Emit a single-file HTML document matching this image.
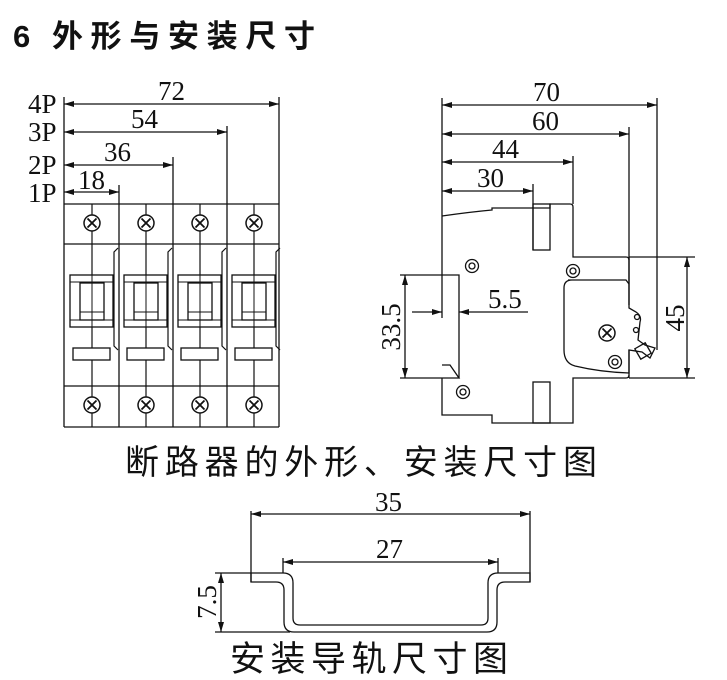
<!DOCTYPE html>
<html><head><meta charset="utf-8"><style>
html,body{margin:0;padding:0;background:#fff;}
svg{display:block;}
.cjk{font-family:"Liberation Sans","Noto Sans CJK SC","WenQuanYi Zen Hei",sans-serif;}
.num{font-family:"Liberation Serif",serif;font-size:27px;fill:#111;}
</style></head><body>
<svg width="727" height="680" viewBox="0 0 727 680" xmlns="http://www.w3.org/2000/svg">
<defs>
<marker id="a" viewBox="0 0 10 6" refX="10" refY="3" markerWidth="12" markerHeight="6" orient="auto-start-reverse" markerUnits="userSpaceOnUse"><path d="M0,0 L10,3 L0,6 Z" fill="#111"/></marker>
<g id="scr"><circle r="8" fill="#fff" stroke="#111" stroke-width="1.5"/><path d="M-4.5,-4.5 L4.5,4.5 M-4.5,4.5 L4.5,-4.5" stroke="#111" stroke-width="1.8"/></g>
<g id="col">
 <line x1="0" y1="0" x2="0" y2="223" stroke="#111" stroke-width="1.2"/>
 <use href="#scr" x="0" y="19"/>
 <use href="#scr" x="0" y="201"/>
 <rect x="-22" y="71" width="43" height="52" fill="#fff" stroke="#111" stroke-width="1.3"/>
 <rect x="-12" y="79" width="24" height="37" fill="#fff" stroke="#111" stroke-width="1.3"/>
 <line x1="-22" y1="78" x2="21" y2="78" stroke="#111"/>
 <line x1="-22" y1="116" x2="21" y2="116" stroke="#111"/>
 <line x1="-12" y1="108" x2="12" y2="108" stroke="#111"/>
 <line x1="0" y1="71" x2="0" y2="123" stroke="#111"/>
 <rect x="-19" y="144" width="37" height="12" fill="#fff" stroke="#111" stroke-width="1.3"/>
 <path d="M26,44 L22,48 L22,142 L26,146" fill="none" stroke="#111" stroke-width="1.2"/>
</g>
</defs>

<text class="cjk" x="13" y="47" font-size="31" font-weight="bold" fill="#111">6</text>
<text class="cjk" x="52" y="47" font-size="31" font-weight="bold" fill="#111" textLength="263" lengthAdjust="spacing">外形与安装尺寸</text>

<g stroke="#111" stroke-width="1.3" fill="none">
 <line x1="64" y1="97" x2="64" y2="427"/>
 <line x1="279" y1="97" x2="279" y2="427"/>
 <line x1="227" y1="126" x2="227" y2="427"/>
 <line x1="173" y1="157" x2="173" y2="427"/>
 <line x1="119" y1="185" x2="119" y2="427"/>
 <line x1="64" y1="204" x2="279" y2="204"/>
 <line x1="64" y1="244" x2="279" y2="244"/>
 <line x1="64" y1="386" x2="279" y2="386"/>
 <line x1="64" y1="427" x2="279" y2="427"/>
 <line x1="64" y1="104" x2="279" y2="104" marker-start="url(#a)" marker-end="url(#a)"/>
 <line x1="64" y1="132" x2="227" y2="132" marker-start="url(#a)" marker-end="url(#a)"/>
 <line x1="64" y1="165" x2="173" y2="165" marker-start="url(#a)" marker-end="url(#a)"/>
 <line x1="64" y1="192" x2="119" y2="192" marker-start="url(#a)" marker-end="url(#a)"/>
</g>
<use href="#col" x="92" y="204"/>
<use href="#col" x="146" y="204"/>
<use href="#col" x="200" y="204"/>
<use href="#col" x="254" y="204"/>
<g class="num">
 <text x="28" y="113">4P</text><text x="28" y="141">3P</text><text x="28" y="174">2P</text><text x="28" y="202">1P</text>
 <text x="158" y="100">72</text><text x="131" y="128">54</text><text x="104" y="161">36</text><text x="78" y="189">18</text>
</g>

<g stroke="#111" stroke-width="1.3" fill="none">
 <line x1="442" y1="98" x2="442" y2="318"/>
 <line x1="657" y1="98" x2="657" y2="350"/>
 <line x1="629" y1="127" x2="629" y2="305"/>
 <line x1="573" y1="156" x2="573" y2="204"/>
 <line x1="533" y1="184" x2="533" y2="250"/>
 <line x1="442" y1="105" x2="657" y2="105" marker-start="url(#a)" marker-end="url(#a)"/>
 <line x1="442" y1="134" x2="629" y2="134" marker-start="url(#a)" marker-end="url(#a)"/>
 <line x1="442" y1="162" x2="573" y2="162" marker-start="url(#a)" marker-end="url(#a)"/>
 <line x1="442" y1="191" x2="533" y2="191" marker-start="url(#a)" marker-end="url(#a)"/>
 <path d="M442,216 Q470,212 492,210 L492,208 L550,208 L550,204 L570,204 Q573,204 573,207 L573,257 L626,257 Q629,257 629,260"/>
 <rect x="533" y="204" width="17" height="46"/>
 <path d="M629,375 Q629,378 626,378 L573,378 L573,423 L492,423 L492,415 L442,415 L442,378"/>
 <rect x="533" y="382" width="17" height="41"/>
 <path d="M442,365 L450,365 L459,378 L400,378"/>
 <path d="M400,275 L459,275 L459,378"/>
 <line x1="405" y1="275" x2="405" y2="378" marker-start="url(#a)" marker-end="url(#a)"/>
 <line x1="412" y1="312" x2="442" y2="312" marker-end="url(#a)"/>
 <line x1="528" y1="312" x2="459" y2="312" marker-end="url(#a)"/>
 <path d="M629,257 L629,308 L636,312 Q642,316 640,322 L638,340 L645,345 L655,348 L650,358 L642,352 L629,350 L629,378"/>
 <path d="M568,280 L626,280 L629,284 M629,350 L629,373 Q600,372 575,366 Q564,363 564,350 L564,288 Q564,280 572,280"/>
 <line x1="629" y1="257" x2="695" y2="257"/>
 <line x1="629" y1="378" x2="695" y2="378"/>
 <line x1="687" y1="257" x2="687" y2="378" marker-start="url(#a)" marker-end="url(#a)"/>
 <rect x="637" y="345" width="12" height="12" transform="rotate(-30 643 351)"/>
 <circle cx="472" cy="266" r="6.5"/><circle cx="472" cy="266" r="3"/>
 <circle cx="573" cy="271" r="6.5"/><circle cx="573" cy="271" r="3"/>
 <circle cx="463" cy="392" r="6.5"/><circle cx="463" cy="392" r="3"/>
 <circle cx="615" cy="362" r="6.5"/><circle cx="615" cy="362" r="3"/>
 <circle cx="637" cy="317" r="2.5"/><circle cx="636" cy="330" r="2.5"/>
</g>
<use href="#scr" x="607" y="333"/>
<g class="num">
 <text x="533" y="101">70</text><text x="532" y="130">60</text><text x="492" y="158">44</text><text x="477" y="187">30</text>
 <text x="488" y="308">5.5</text>
 <text transform="translate(400,327) rotate(-90)" text-anchor="middle">33.5</text>
 <text transform="translate(684,318) rotate(-90)" text-anchor="middle">45</text>
</g>
<text class="cjk" x="125" y="474" font-size="34" fill="#111" textLength="472" lengthAdjust="spacing">断路器的外形、安装尺寸图</text>

<g stroke="#111" stroke-width="1.3" fill="none">
 <line x1="251" y1="511" x2="251" y2="582"/>
 <line x1="530" y1="511" x2="530" y2="582"/>
 <line x1="283" y1="558" x2="283" y2="573"/>
 <line x1="498" y1="558" x2="498" y2="573"/>
 <line x1="251" y1="514" x2="530" y2="514" marker-start="url(#a)" marker-end="url(#a)"/>
 <line x1="283" y1="562" x2="498" y2="562" marker-start="url(#a)" marker-end="url(#a)"/>
 <path d="M251,573 L283,573 Q293,573 293,583 L293,618 Q293,625 300,625 L481,625 Q488,625 488,618 L488,583 Q488,573 498,573 L530,573 L530,582 L505,582 Q497,582 497,590 L497,622 Q497,632 487,632 L294,632 Q284,632 284,622 L284,590 Q284,582 276,582 L251,582 Z"/>
 <line x1="215" y1="573" x2="251" y2="573"/>
 <line x1="215" y1="632" x2="290" y2="632"/>
 <line x1="221" y1="573" x2="221" y2="632" marker-start="url(#a)" marker-end="url(#a)"/>
</g>
<g class="num">
 <text x="375" y="511">35</text><text x="376" y="558">27</text>
 <text transform="translate(216,602) rotate(-90)" text-anchor="middle">7.5</text>
</g>
<text class="cjk" x="230" y="671" font-size="35" fill="#111" textLength="278" lengthAdjust="spacing">安装导轨尺寸图</text>
</svg>
</body></html>
